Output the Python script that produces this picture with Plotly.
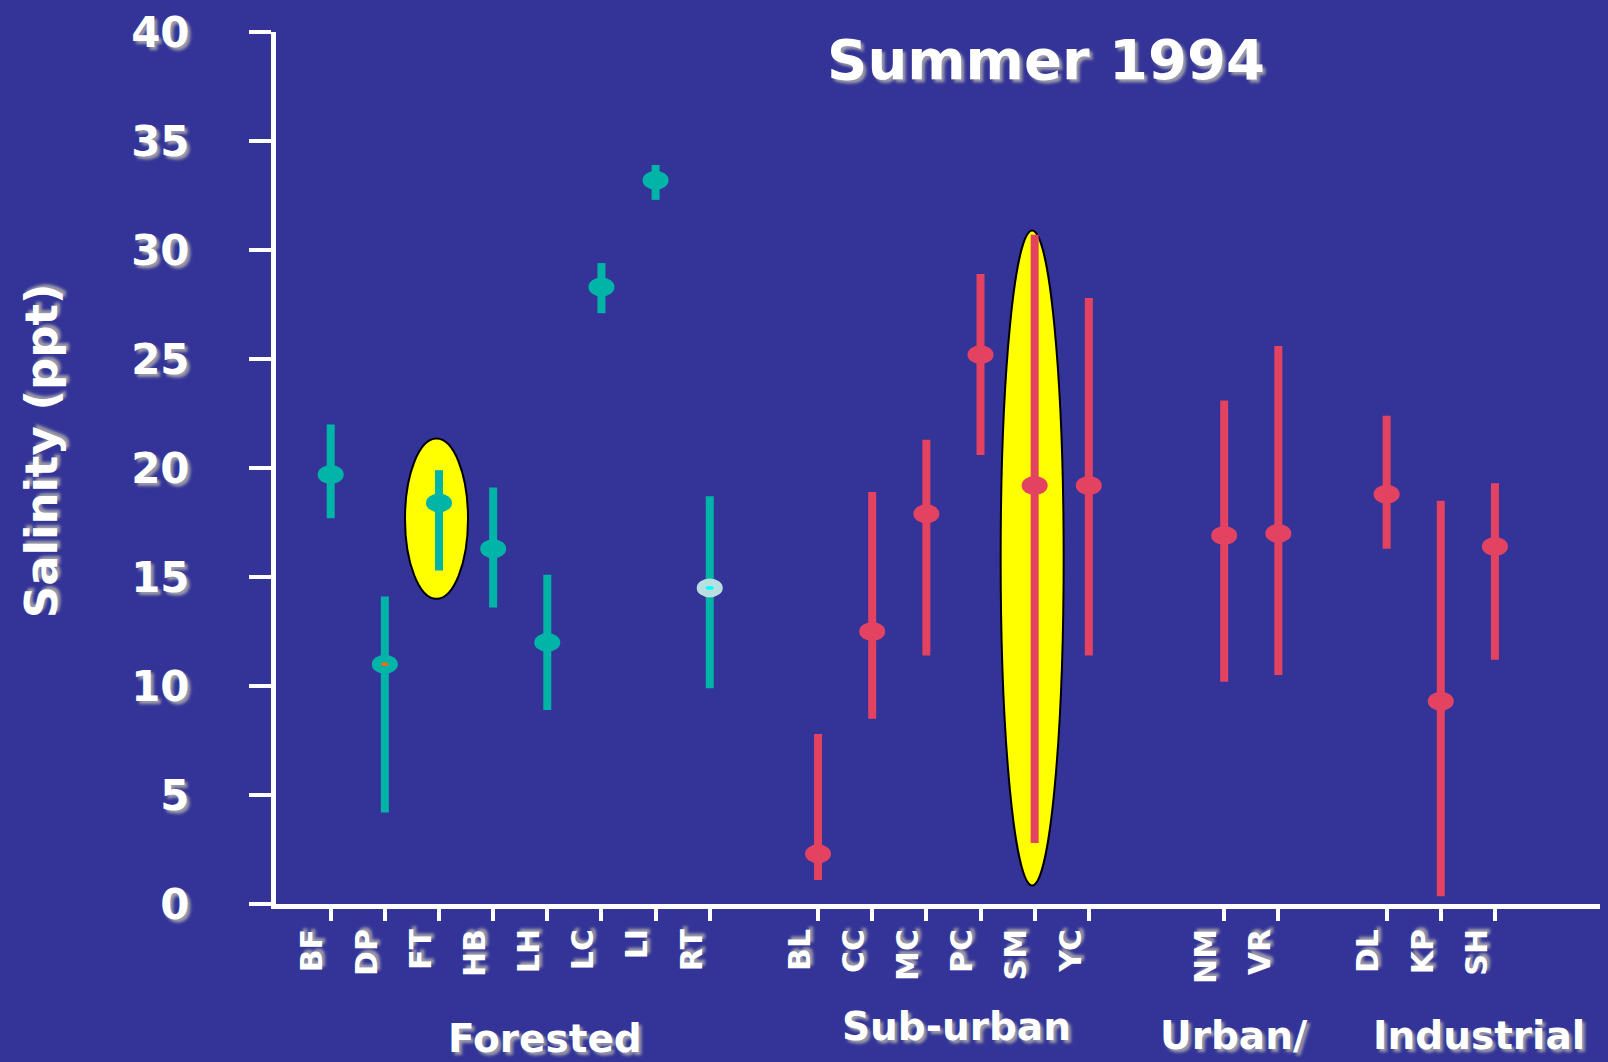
import plotly.graph_objects as go

# ---------------- data ----------------
sites = ["BF", "DP", "FT", "HB", "LH", "LC", "LI", "RT",
         "BL", "CC", "MC", "PC", "SM", "YC",
         "NM", "VR",
         "DL", "KP", "SH"]
site_group = ["Forested"] * 8 + ["Sub-urban"] * 6 + ["Urban"] * 2 + ["Industrial"] * 3
salinity_mean = [19.7, 11.0, 18.4, 16.3, 12.0, 28.3, 33.2, 14.5,
                 2.3, 12.5, 17.9, 25.2, 19.2, 19.2,
                 16.9, 17.0,
                 18.8, 9.3, 16.4]
salinity_high = [22.0, 14.1, 19.9, 19.1, 15.1, 29.4, 33.9, 18.7,
                 7.8, 18.9, 21.3, 28.9, 30.7, 27.8,
                 23.1, 25.6,
                 22.4, 18.5, 19.3]
salinity_low = [17.7, 4.2, 15.3, 13.6, 8.9, 27.1, 32.3, 9.9,
                1.1, 8.5, 11.4, 20.6, 2.8, 11.4,
                10.2, 10.5,
                16.3, 0.35, 11.2]
highlight_sites = ["FT", "SM"]
highlight_low = [14.0, 0.85]
highlight_high = [21.35, 30.9]
y_ticks = [0, 5, 10, 15, 20, 25, 30, 35, 40]
group_labels = ["Forested", "Sub-urban", "Urban/", "Industrial"]

# ---------------- layout constants / styles ----------------
group_order = ["Forested", "Sub-urban", "Urban", "Industrial"]
group_gap = {"Forested": 0.0, "Sub-urban": 2.0, "Urban": 2.5, "Industrial": 2.0}
group_color = {"Forested": "#00B5A8", "Sub-urban": "#E34260",
               "Urban": "#E34260", "Industrial": "#E34260"}
special_fill = {"RT": "#B9E0E0"}
special_dot = {"DP": "#FF6A00", "RT": "#00FFFF"}
BG = "#343498"
FONT = "DejaVu Sans"
SHADOW = "3px 3px 3px rgba(160,160,170,0.95)"

# x positions (category slots with gaps between land-use groups)
xpos = []
cur = -1.0
prev = None
for g in site_group:
    if g != prev:
        cur += 1.0 + (group_gap[g] - 1.0 if prev is not None else 0.0)
        prev = g
    else:
        cur += 1.0
    xpos.append(cur)

fig = go.Figure()

for g in group_order:
    idx = [i for i, s in enumerate(site_group) if s == g]
    fig.add_trace(go.Scatter(
        x=[xpos[i] for i in idx],
        y=[salinity_mean[i] for i in idx],
        mode="markers",
        marker=dict(size=16, color=group_color[g]),
        error_y=dict(type="data", symmetric=False,
                     array=[salinity_high[i] - salinity_mean[i] for i in idx],
                     arrayminus=[salinity_mean[i] - salinity_low[i] for i in idx],
                     thickness=8, width=0, color=group_color[g]),
        showlegend=False, hoverinfo="x+y", cliponaxis=False,
    ))

shapes = []
# yellow highlight ellipses
for s, lo, hi in zip(highlight_sites, highlight_low, highlight_high):
    i = sites.index(s)
    shapes.append(dict(type="circle", layer="below", xref="x", yref="y",
                       xsizemode="pixel", xanchor=xpos[i], x0=-34, x1=29,
                       y0=lo, y1=hi, fillcolor="#FFFF00",
                       line=dict(color="black", width=2)))
# elliptical markers
for i, s in enumerate(sites):
    fill = special_fill.get(s, group_color[site_group[i]])
    shapes.append(dict(type="circle", layer="above", xref="x", yref="y",
                       xsizemode="pixel", ysizemode="pixel",
                       xanchor=xpos[i], yanchor=salinity_mean[i],
                       x0=-13, x1=13, y0=-9.5, y1=9.5,
                       fillcolor=fill, line=dict(width=0)))
    if s in special_dot:
        shapes.append(dict(type="circle", layer="above", xref="x", yref="y",
                           xsizemode="pixel", ysizemode="pixel",
                           xanchor=xpos[i], yanchor=salinity_mean[i],
                           x0=-4, x1=4, y0=-1.8, y1=1.8,
                           fillcolor=special_dot[s], line=dict(width=0)))

annotations = [
    dict(text="Salinity (ppt)", textangle=-90, xref="paper", yref="paper",
         x=-0.177, y=0.52, showarrow=False, xanchor="center", yanchor="middle",
         font=dict(family=FONT, size=45, color="white", weight="bold", shadow=SHADOW)),
]
label_pos = [(0.203, -0.154), (0.514, -0.141), (0.7236, -0.151), (0.9086, -0.151)]
for txt, (px, py) in zip(group_labels, label_pos):
    annotations.append(dict(text=txt, xref="paper", yref="paper", x=px, y=py,
                            showarrow=False, xanchor="center", yanchor="middle",
                            font=dict(family=FONT, size=39, color="white",
                                      weight="bold", shadow=SHADOW)))

fig.update_layout(
    width=1608, height=1062,
    margin=dict(l=276, r=8, t=32, b=158),
    paper_bgcolor=BG, plot_bgcolor=BG,
    title=dict(text="Summer 1994", x=1046 / 1608, y=1 - 59 / 1062,
               xref="container", yref="container", xanchor="center", yanchor="middle",
               font=dict(family=FONT, size=56, color="white", weight="bold", shadow=SHADOW)),
    xaxis=dict(range=[-1.01, 23.44], tickmode="array", tickvals=xpos, ticktext=sites,
               tickangle=-90, ticks="outside", ticklen=12, tickwidth=4, tickcolor="white",
               showline=True, linewidth=5, linecolor="white", showgrid=False,
               zeroline=False, ticklabelshift=-18, ticklabelstandoff=-4,
               tickfont=dict(family=FONT, size=30, color="white", weight="bold", shadow=SHADOW)),
    yaxis=dict(range=[0, 40], tickmode="array", tickvals=y_ticks,
               ticks="outside", ticklen=22, tickwidth=4, tickcolor="white",
               showline=True, linewidth=5, linecolor="white", showgrid=False,
               zeroline=False, ticklabelstandoff=51,
               tickfont=dict(family=FONT, size=42, color="white", weight="bold", shadow=SHADOW)),
    shapes=shapes,
    annotations=annotations,
)

fig.write_html("out.html", config={"displayModeBar": False},
               post_script="document.body.style.margin='0';document.body.style.overflow='hidden';")
